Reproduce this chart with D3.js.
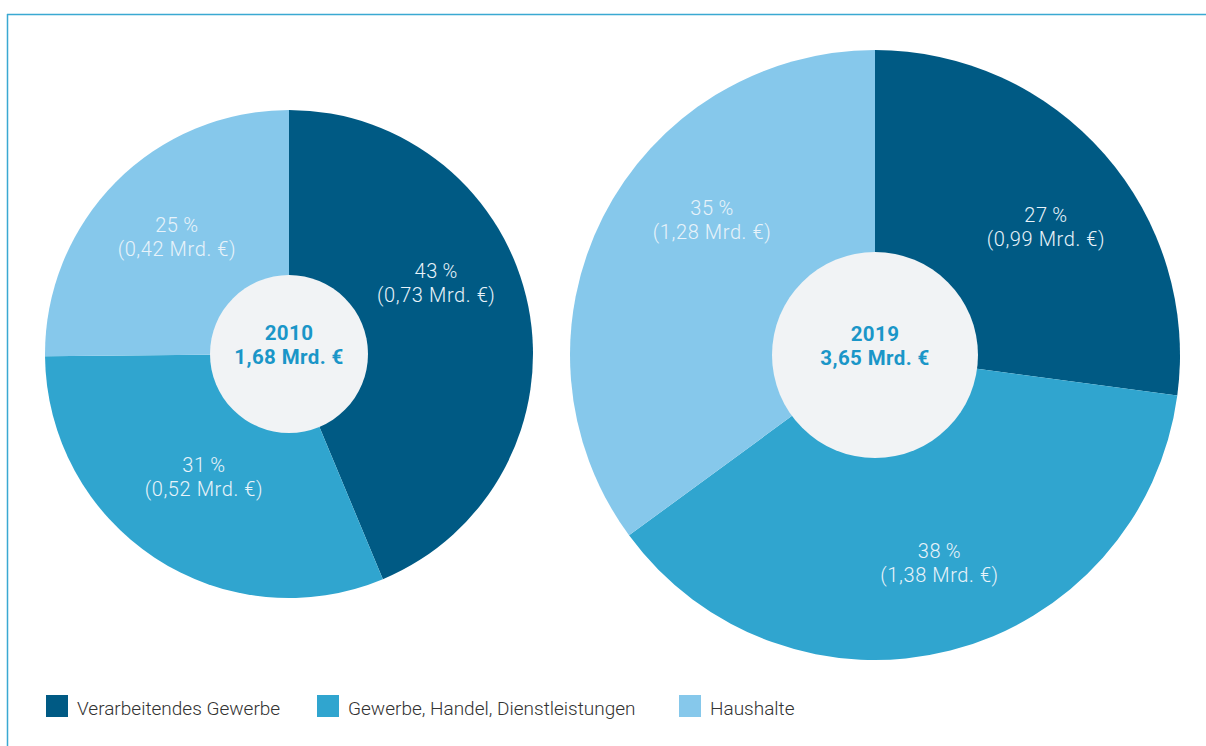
<!DOCTYPE html>
<html>
<head>
<meta charset="utf-8">
<script src="https://cdn.jsdelivr.net/npm/d3@7"></script>
<style>
  body { margin: 0; background: #fff; }
  svg { display: block; }
</style>
</head>
<body>
<div class="display"></div>
<script>
//categories and values (Mrd. €)
const categories = ["Verarbeitendes Gewerbe", "Gewerbe, Handel, Dienstleistungen", "Haushalte"];
const years = ["2010", "2019"];
const totals = ["1,68", "3,65"];
const values2010 = [0.73, 0.52, 0.42];
const values2019 = [0.99, 1.38, 1.28];
const shares2010 = [43, 31, 25];
const shares2019 = [27, 38, 35];

const width = 1206, height = 746;
const colors = ["#005a84", "#30a5cf", "#86c8eb"];
const font = "Roboto, 'Liberation Sans', sans-serif";

const svg = d3.select(".display").append("svg")
  .attr("width", width)
  .attr("height", height);

//frame lines top and left
svg.append("line").attr("x1", 7).attr("x2", width).attr("y1", 14.5).attr("y2", 14.5)
  .attr("stroke", "#3aa9d2").attr("stroke-width", 1.5);
svg.append("line").attr("x1", 7.5).attr("x2", 7.5).attr("y1", 14).attr("y2", height)
  .attr("stroke", "#3aa9d2").attr("stroke-width", 1.5);

//layout of both pies; label nudges in degrees and label radii
const pies = [
  { year: years[0], total: totals[0], values: values2010, shares: shares2010,
    cx: 289, cy: 354, r: 244, hole: 79, labelR: [164, 149, 163], nudge: [-14.8, 1.4, 1.8] },
  { year: years[1], total: totals[1], values: values2019, shares: shares2019,
    cx: 875, cy: 355, r: 305, hole: 103, labelR: [214, 217, 212], nudge: [4.2, -3, 12.9] }
];

const pie = d3.pie().sort(null).value(d => d);
const fmt = v => d3.format(".2f")(v).replace(".", ",");

pies.forEach(p => {
  const g = svg.append("g").attr("transform", `translate(${p.cx},${p.cy})`);
  const arc = d3.arc().innerRadius(0).outerRadius(p.r);
  const arcs = pie(p.values);

  g.selectAll("path").data(arcs).enter().append("path")
    .attr("d", arc)
    .attr("fill", (d, i) => colors[i]);

  //labels in slices
  const lab = g.selectAll(".lab").data(arcs).enter().append("text")
    .attr("class", "lab")
    .attr("text-anchor", "middle")
    .attr("fill", "#e8f3fa")
    .style("font-family", font)
    .style("font-weight", 300)
    .style("font-size", "20px")
    .style("letter-spacing", "0.6px")
    .attr("transform", (d, i) => {
      const a = (d.startAngle + d.endAngle) / 2 + p.nudge[i] * Math.PI / 180;
      return `translate(${Math.sin(a) * p.labelR[i]},${-Math.cos(a) * p.labelR[i]})`;
    });
  lab.append("tspan").attr("x", 0).attr("y", -4).text((d, i) => p.shares[i] + "\u2009%");
  lab.append("tspan").attr("x", 0).attr("y", 20).text(d => `(${fmt(d.data)} Mrd. €)`);

  //centre disc
  g.append("circle").attr("r", p.hole).attr("fill", "#f1f3f5");
  const ct = g.append("text")
    .attr("text-anchor", "middle")
    .attr("fill", "#1a96c8")
    .style("font-family", font)
    .style("font-weight", 700)
    .style("font-size", "20.5px")
    .style("letter-spacing", "0.4px");
  ct.append("tspan").attr("x", 0).attr("y", -14).text(p.year);
  ct.append("tspan").attr("x", 0).attr("y", 10).text(`${p.total} Mrd. €`);
});

//legend
const legendX = [46, 317, 679];
const legend = svg.selectAll(".legend").data(categories).enter().append("g")
  .attr("class", "legend")
  .attr("transform", (d, i) => `translate(${legendX[i]},695)`);
legend.append("rect").attr("width", 22).attr("height", 22).attr("fill", (d, i) => colors[i]);
legend.append("text")
  .attr("x", 31).attr("y", 20)
  .attr("fill", "#333")
  .style("font-family", font)
  .style("font-weight", 300)
  .style("font-size", "19px")
  .text(d => d);
</script>
</body>
</html>
